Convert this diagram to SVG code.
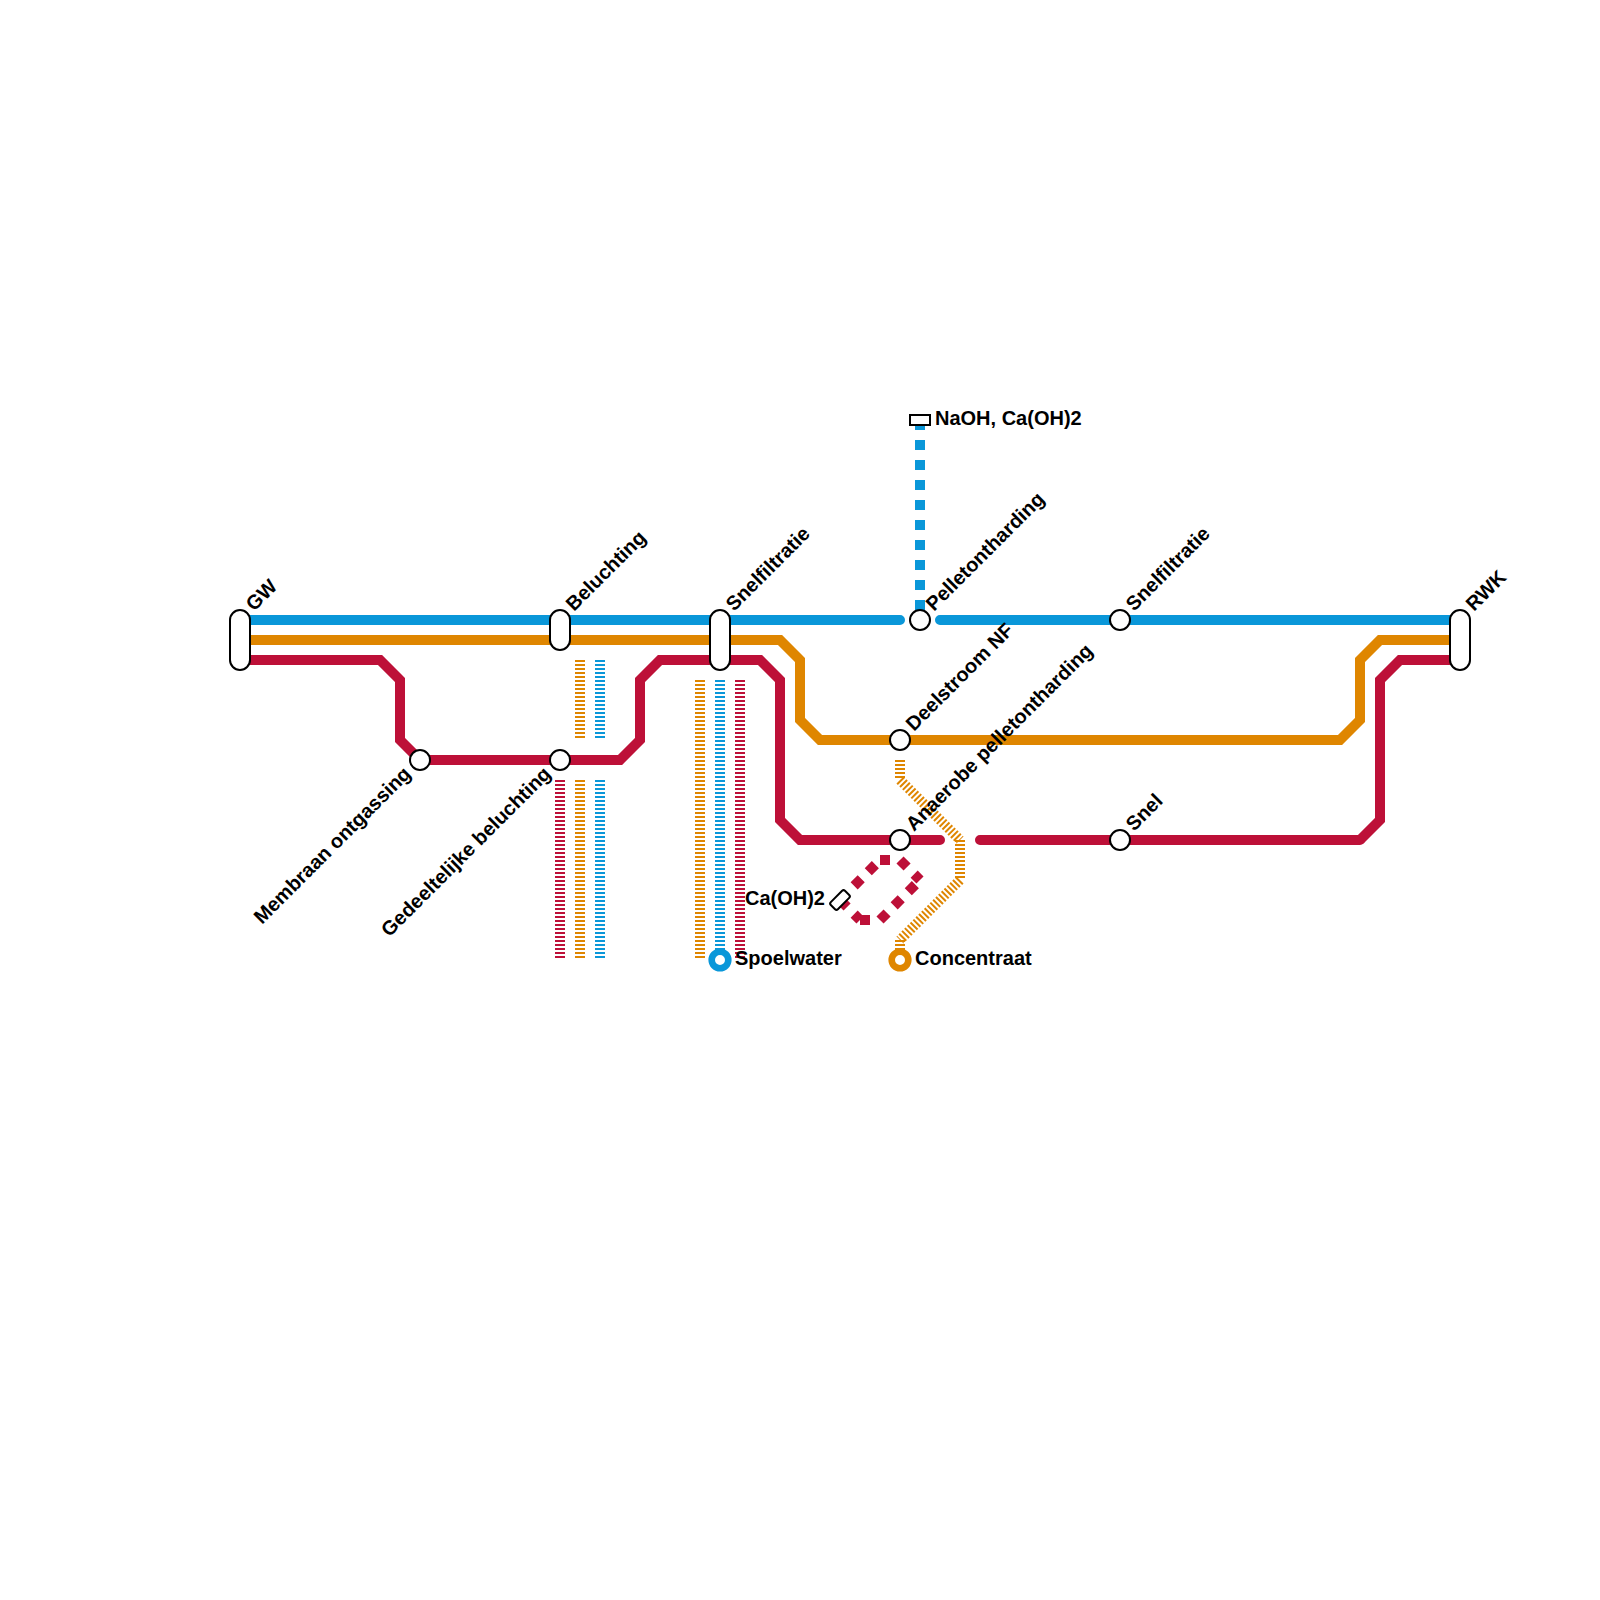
<svg xmlns="http://www.w3.org/2000/svg" width="1600" height="1600" viewBox="0 0 1600 1600">
<style>
.l{fill:none;stroke-width:10;stroke-linejoin:miter;stroke-linecap:butt}
.b{stroke:#0a97d9}.o{stroke:#df8600}.r{stroke:#bd1038}
.f{stroke-dasharray:2 2}.d{stroke-dasharray:10 10}.rc{stroke-linecap:round}
.s{fill:#fff;stroke:#000;stroke-width:2}
.t{fill:#fff;stroke-width:6.6}
text{font-family:"Liberation Sans",Arial,sans-serif;font-weight:700;font-size:20px;fill:#000}
</style>
<rect width="1600" height="1600" fill="#fff"/>
<g id="connectors">
<path class="l b" d="M240 620H880"/>
<path class="l b rc" d="M880 620H900M940 620H1460"/>
<path class="l o" d="M240 640H780L800 660V720L820 740H1340L1360 720V660L1380 640H1460"/>
<path class="l r" d="M240 660H380L400 680V740L420 760H620L640 740V680L660 660H760L780 680V820L800 840H920"/>
<path class="l r rc" d="M920 840H940M980 840H1360"/>
<path class="l r" d="M1360 840L1380 820V680L1400 660H1460"/>
<path class="l b d" d="M920 420V620"/>
<path class="l o f" d="M580 660V740"/>
<path class="l b f" d="M600 660V740"/>
<path class="l r f" d="M560 780V960"/>
<path class="l o f" d="M580 780V960"/>
<path class="l b f" d="M600 780V960"/>
<path class="l o f" d="M700 680V960"/>
<path class="l b f" d="M720 680V960"/>
<path class="l r f" d="M740 680V960"/>
<path class="l o f" d="M900 760V780"/>
<path class="l o f" d="M900 780L960 840"/>
<path class="l o f" d="M960 840V880"/>
<path class="l o f" d="M960 880L900 940"/>
<path class="l o f" d="M900 940V960"/>
<path class="l r d" d="M840 900L880 860"/>
<path class="l r d" d="M880 860H900"/>
<path class="l r d" d="M900 860L920 880"/>
<path class="l r d" d="M840 900L860 920"/>
<path class="l r d" d="M860 920H880"/>
<path class="l r d" d="M880 920L920 880"/>
</g>
<g id="GW"><rect class="s" x="230" y="610" width="20" height="60" rx="10"/><text transform="translate(254 612) rotate(-45)">GW</text></g>
<g id="Membraan"><circle class="s" cx="420" cy="760" r="10"/><text text-anchor="end" transform="translate(412 775) rotate(-45)">Membraan ontgassing</text></g>
<g id="Beluchting"><rect class="s" x="550" y="610" width="20" height="40" rx="10"/><text transform="translate(574 612) rotate(-45)">Beluchting</text></g>
<g id="Gedeeltelijke"><circle class="s" cx="560" cy="760" r="10"/><text text-anchor="end" transform="translate(552 775) rotate(-45)">Gedeeltelijke beluchting</text></g>
<g id="Snelfiltratie1"><rect class="s" x="710" y="610" width="20" height="60" rx="10"/><text transform="translate(734 612) rotate(-45)">Snelfiltratie</text></g>
<g id="Pelletontharding"><circle class="s" cx="920" cy="620" r="10"/><text transform="translate(934 612) rotate(-45)">Pelletontharding</text></g>
<g id="Snelfiltratie2"><circle class="s" cx="1120" cy="620" r="10"/><text transform="translate(1134 612) rotate(-45)">Snelfiltratie</text></g>
<g id="RWK"><rect class="s" x="1450" y="610" width="20" height="60" rx="10"/><text transform="translate(1474 612) rotate(-45)">RWK</text></g>
<g id="Deelstroom"><circle class="s" cx="900" cy="740" r="10"/><text transform="translate(914 732) rotate(-45)">Deelstroom NF</text></g>
<g id="Anaerobe"><circle class="s" cx="900" cy="840" r="10"/><text transform="translate(914 832) rotate(-45)">Anaerobe pelletontharding</text></g>
<g id="Snel"><circle class="s" cx="1120" cy="840" r="10"/><text transform="translate(1134 832) rotate(-45)">Snel</text></g>
<g id="NaOH"><rect class="s" x="910" y="415" width="20" height="10"/><text x="935" y="425">NaOH, Ca(OH)2</text></g>
<g id="CaOH"><rect class="s" x="830" y="895" width="20" height="10" rx="2" transform="rotate(-45 840 900)"/><text x="825" y="905" text-anchor="end">Ca(OH)2</text></g>
<g id="Spoelwater"><circle class="t b" cx="720" cy="960" r="8.3"/><text x="735" y="965">Spoelwater</text></g>
<g id="Concentraat"><circle class="t o" cx="900" cy="960" r="8.3"/><text x="915" y="965">Concentraat</text></g>
</svg>
